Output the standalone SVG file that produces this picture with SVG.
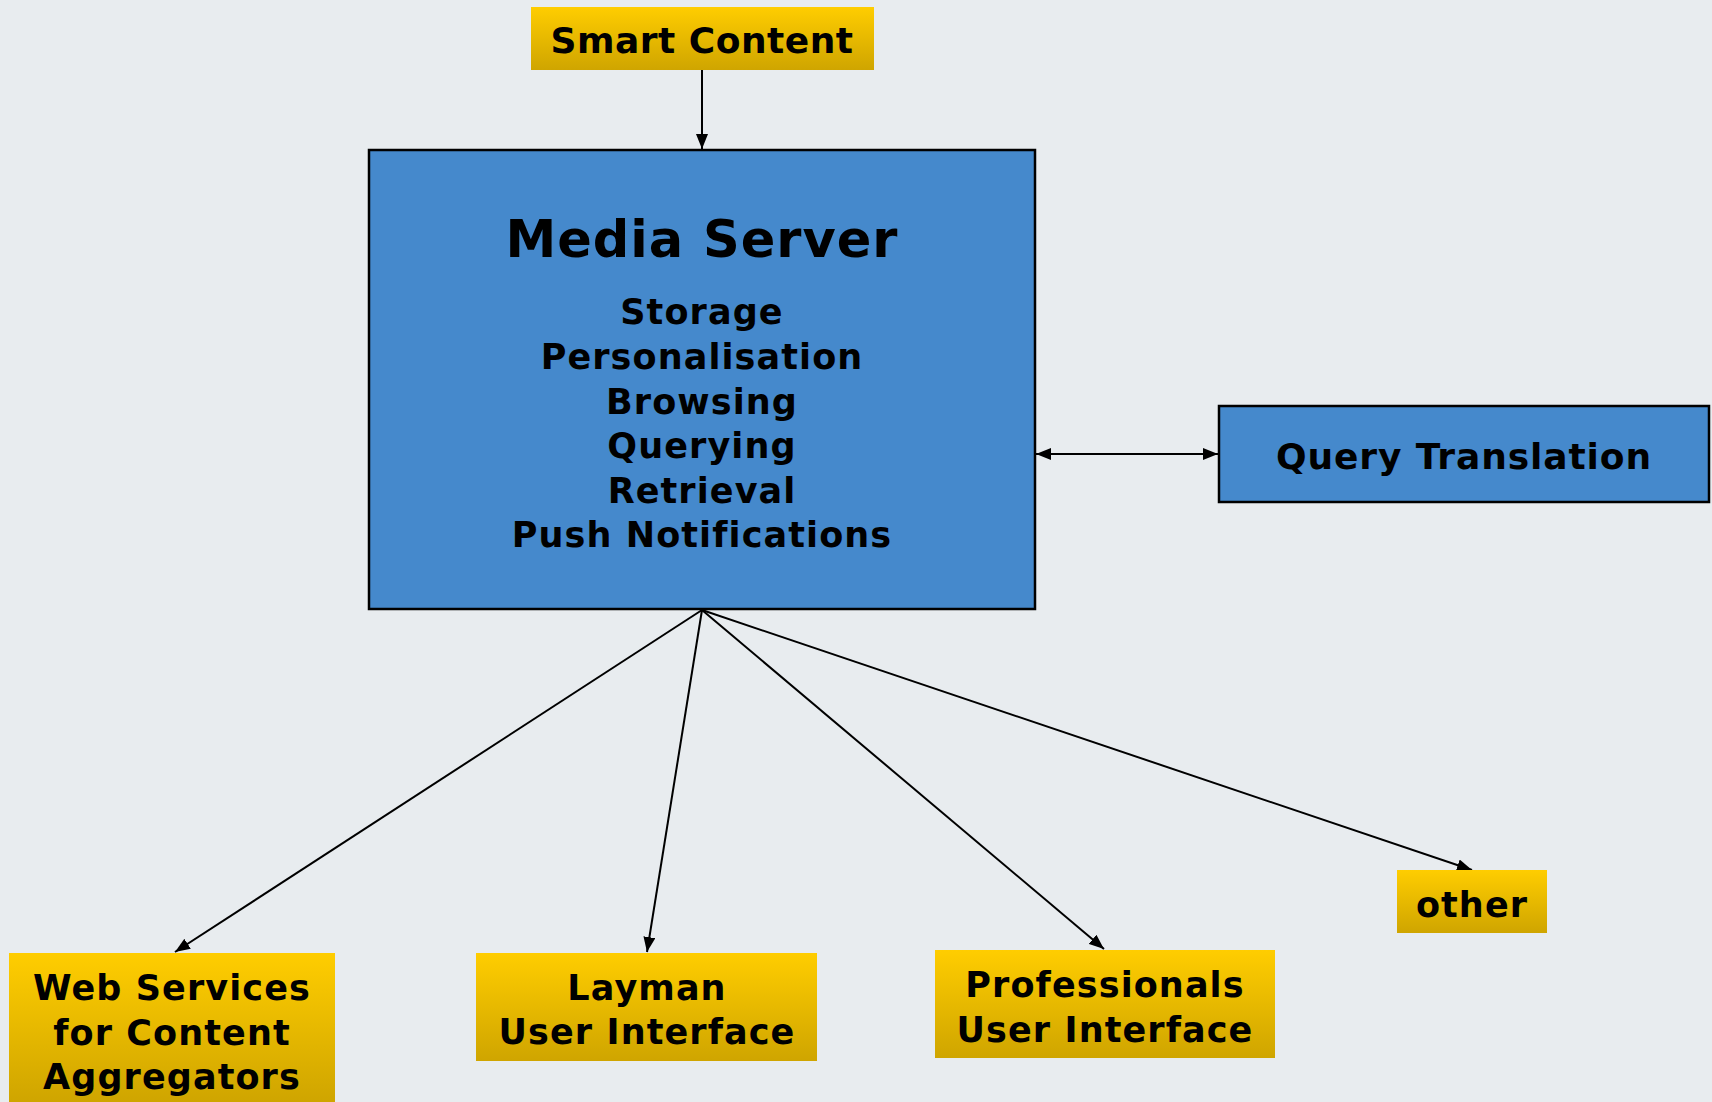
<svg xmlns="http://www.w3.org/2000/svg" width="1712" height="1102" viewBox="0 0 1712 1102">
<defs>
<linearGradient id="gold" x1="0" y1="0" x2="0" y2="1">
<stop offset="0" stop-color="#FFCD00"/>
<stop offset="1" stop-color="#CFA500"/>
</linearGradient>
<marker id="ah" viewBox="0 0 15 12" refX="15" refY="6" markerWidth="15" markerHeight="12" markerUnits="userSpaceOnUse" orient="auto-start-reverse">
<path d="M0,0 L15,6 L0,12 z" fill="#000"/>
</marker>
<style>
.gold{fill:url(#gold);stroke:none}
.blue{fill:#4589CC;stroke:#000;stroke-width:2.5}
text{font-family:"DejaVu Sans","Verdana",sans-serif;font-weight:bold;fill:#000;text-anchor:middle}
.lbl{font-size:35px;letter-spacing:1.1px}
.title{font-size:51px;letter-spacing:1px}
.con{stroke:#000;stroke-width:2;fill:none;marker-end:url(#ah)}
</style>
</defs>
<rect width="1712" height="1102" fill="#E8ECEF"/>
<g id="connectors">
<line class="con" x1="702" y1="70" x2="702" y2="149"/>
<line class="con" x1="1036" y1="454" x2="1218" y2="454" style="marker-start:url(#ah)"/>
<line class="con" x1="702" y1="610" x2="175" y2="952"/>
<line class="con" x1="702" y1="610" x2="647" y2="952"/>
<line class="con" x1="702" y1="610" x2="1104" y2="949"/>
<line class="con" x1="702" y1="610" x2="1472" y2="870"/>
</g>
<g id="smart-content">
<rect class="gold" x="531" y="7" width="343" height="63"/>
<text x="702" y="53" style="font-size:36px;letter-spacing:0.5px">Smart Content</text>
</g>
<g id="media-server">
<rect class="blue" x="369" y="150" width="666" height="459"/>
<text class="title" x="702" y="257">Media Server</text>
<text class="lbl" x="702" y="324">Storage</text>
<text class="lbl" x="702" y="369">Personalisation</text>
<text class="lbl" x="702" y="414">Browsing</text>
<text class="lbl" x="702" y="458">Querying</text>
<text class="lbl" x="702" y="503">Retrieval</text>
<text class="lbl" x="702" y="547">Push Notifications</text>
</g>
<g id="query-translation">
<rect class="blue" x="1219" y="406" width="490" height="96"/>
<text x="1464" y="469" style="font-size:36px;letter-spacing:0.9px">Query Translation</text>
</g>
<g id="web-services">
<rect class="gold" x="9" y="953" width="326" height="149"/>
<text class="lbl" x="172" y="1000">Web Services</text>
<text class="lbl" x="172" y="1045">for Content</text>
<text class="lbl" x="172" y="1089">Aggregators</text>
</g>
<g id="layman">
<rect class="gold" x="476" y="953" width="341" height="108"/>
<text class="lbl" x="647" y="1000">Layman</text>
<text class="lbl" x="647" y="1044">User Interface</text>
</g>
<g id="professionals">
<rect class="gold" x="935" y="950" width="340" height="108"/>
<text class="lbl" x="1105" y="997">Professionals</text>
<text class="lbl" x="1105" y="1042">User Interface</text>
</g>
<g id="other">
<rect class="gold" x="1397" y="870" width="150" height="63"/>
<text class="lbl" x="1472" y="917">other</text>
</g>
</svg>
